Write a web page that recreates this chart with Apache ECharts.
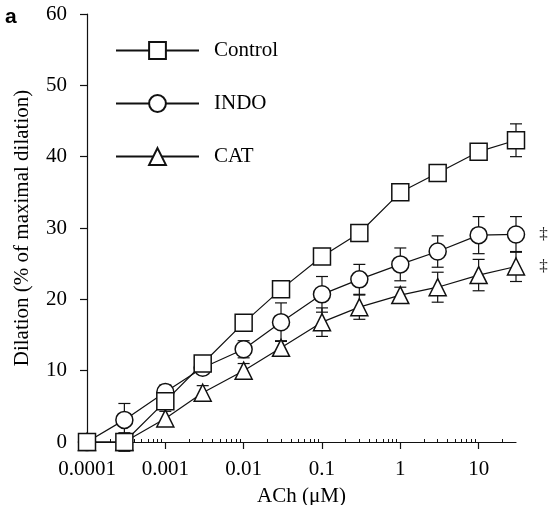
<!DOCTYPE html>
<html>
<head>
<meta charset="utf-8">
<script src="https://cdn.jsdelivr.net/npm/echarts@6/dist/echarts.min.js"></script>
<style>
  html, body { margin: 0; padding: 0; background: #fff; }
  #chart { width: 556px; height: 505px; }
</style>
</head>
<body>
<div id="chart"></div>
<script>
// ACh concentration-response data (mean and SEM, % of maximal dilation)
const achConc = [0.0001, 0.0003, 0.001, 0.003, 0.01, 0.03, 0.1, 0.3, 1, 3, 10, 30];

const controlMean = [0, 0, 5.7, 11.0, 16.7, 21.4, 26.0, 29.3, 35.0, 37.7, 40.7, 42.3];
const controlSem  = [0, 1.3, 0.8, 0.8, 0.8, 0.8, 0.8, 0.8, 0.8, 0.8, 0.9, 2.3];

const indoMean = [0, 3.1, 7.0, 10.4, 13.0, 16.8, 20.7, 22.8, 24.9, 26.7, 29.0, 29.1];
const indoSem  = [0, 2.3, 1.0, 0.6, 1.2, 2.7, 2.5, 2.1, 2.3, 2.2, 2.6, 2.5];

const catMean = [0, 0, 3.3, 6.9, 10.0, 13.2, 16.8, 18.9, 20.6, 21.7, 23.4, 24.6];
const catSem  = [0, 0.8, 1.0, 1.0, 1.0, 1.0, 2.0, 1.7, 1.1, 2.1, 2.2, 2.1];

const seriesNames = ['Control', 'INDO', 'CAT'];

const xTickValues = [0.0001, 0.001, 0.01, 0.1, 1, 10];
const xTickLabels = ['0.0001', '0.001', '0.01', '0.1', '1', '10'];
const xMin = 0.0001;
const xMax = 30;

const yMin = 0;
const yMax = 60;
const yStep = 10;

const dagger = '\u2021';

const xTitle = 'ACh (\u03bcM)';
const yTitle = 'Dilation (% of maximal dilation)';
const panelLetter = 'a';

// log-decade minor ticks (2..9 x 10^k) inside the axis range
const xMinorTicks = [];
for (let e = -4; e <= 1; e++) {
  for (let m = 2; m <= 9; m++) {
    const v = m * Math.pow(10, e);
    if (v < xMax) xMinorTicks.push(v);
  }
}

const SERIF = '"Liberation Serif", "Times New Roman", serif';
const INK = '#111';

function pairs(means) {
  return achConc.map((c, i) => [c, means[i]]);
}

function errorData(means, sems) {
  const out = [];
  achConc.forEach((c, i) => {
    if (sems[i] > 0) out.push([c, means[i] - sems[i], means[i] + sems[i]]);
  });
  return out;
}

function renderErrorBar(params, api) {
  const x = api.value(0);
  const lo = api.coord([x, api.value(1)]);
  const hi = api.coord([x, api.value(2)]);
  const half = 6;
  const style = { stroke: INK, lineWidth: 1.2 };
  return {
    type: 'group',
    children: [
      { type: 'line', shape: { x1: hi[0], y1: hi[1], x2: lo[0], y2: lo[1] }, style },
      { type: 'line', shape: { x1: hi[0] - half, y1: hi[1], x2: hi[0] + half, y2: hi[1] }, style },
      { type: 'line', shape: { x1: lo[0] - half, y1: lo[1], x2: lo[0] + half, y2: lo[1] }, style }
    ]
  };
}

function lineSeries(name, symbol, means, withDagger) {
  const last = means.length - 1;
  return {
    name,
    type: 'line',
    data: pairs(means),
    symbol,
    symbolSize: 17,
    showAllSymbol: true,
    clip: false,
    z: 3,
    lineStyle: { color: INK, width: 1.2 },
    itemStyle: { color: '#fff', borderColor: INK, borderWidth: 1.5 },
    emphasis: { disabled: true },
    label: {
      show: withDagger,
      position: 'right',
      distance: 14,
      fontFamily: SERIF,
      fontSize: 17,
      color: '#222',
      formatter: (p) => (p.dataIndex === last ? dagger : '')
    }
  };
}

function errorSeries(means, sems) {
  return {
    type: 'custom',
    renderItem: renderErrorBar,
    data: errorData(means, sems),
    encode: { x: 0, y: [1, 2] },
    clip: false,
    z: 1,
    silent: true
  };
}

const chart = echarts.init(document.getElementById('chart'), null, { renderer: 'canvas' });

chart.setOption({
  animation: false,
  backgroundColor: '#fff',
  grid: { left: 87, right: 40, top: 14, bottom: 63, containLabel: false, outerBoundsMode: 'none' },
  graphic: [{
    type: 'text',
    left: 5,
    top: 7,
    style: { text: panelLetter, font: 'bold 21px "Liberation Sans", Arial, sans-serif', fill: '#000' }
  }],
  legend: {
    orient: 'vertical',
    left: 110,
    top: 35,
    itemWidth: 83,
    itemHeight: 21,
    itemGap: 32,
    selectedMode: false,
    data: seriesNames,
    textStyle: { fontFamily: SERIF, fontSize: 21, color: '#000', padding: [0, 0, 0, 10] }
  },
  xAxis: [{
    type: 'log',
    logBase: 10,
    min: xMin,
    max: xMax,
    position: 'bottom',
    name: xTitle,
    nameLocation: 'middle',
    nameGap: 44,
    nameTextStyle: { fontFamily: SERIF, fontSize: 21, color: '#000' },
    axisLine: { lineStyle: { color: INK, width: 1.2 } },
    axisTick: { show: true, inside: false, length: 7, customValues: xTickValues, lineStyle: { color: INK, width: 1.2 } },
    axisLabel: {
      customValues: xTickValues,
      margin: 17,
      fontFamily: SERIF,
      fontSize: 21,
      color: '#000',
      formatter: (v) => {
        const i = xTickValues.findIndex(t => Math.abs(Math.log10(t) - Math.log10(v)) < 1e-6);
        return i >= 0 ? xTickLabels[i] : '';
      }
    },
    splitLine: { show: false },
    minorTick: { show: false }
  }, {
    type: 'log',
    logBase: 10,
    min: xMin,
    max: xMax,
    position: 'bottom',
    offset: 0,
    axisLine: { show: false },
    axisTick: { show: true, inside: true, length: 3, customValues: xMinorTicks, lineStyle: { color: INK, width: 1 } },
    axisLabel: { show: false },
    splitLine: { show: false }
  }],
  yAxis: {
    type: 'value',
    min: yMin,
    max: yMax,
    interval: yStep,
    name: yTitle,
    nameLocation: 'middle',
    nameGap: 54,
    nameTextStyle: { fontFamily: SERIF, fontSize: 21, color: '#000' },
    axisLine: { show: true, lineStyle: { color: INK, width: 1.2 } },
    axisTick: { show: true, inside: false, length: 7, lineStyle: { color: INK, width: 1.2 } },
    axisLabel: { margin: 20, fontFamily: SERIF, fontSize: 21, color: '#000' },
    splitLine: { show: false }
  },
  series: [
    errorSeries(catMean, catSem),
    errorSeries(indoMean, indoSem),
    errorSeries(controlMean, controlSem),
    lineSeries('CAT', 'triangle', catMean, true),
    lineSeries('INDO', 'circle', indoMean, true),
    lineSeries('Control', 'rect', controlMean, false)
  ]
});
</script>
</body>
</html>
